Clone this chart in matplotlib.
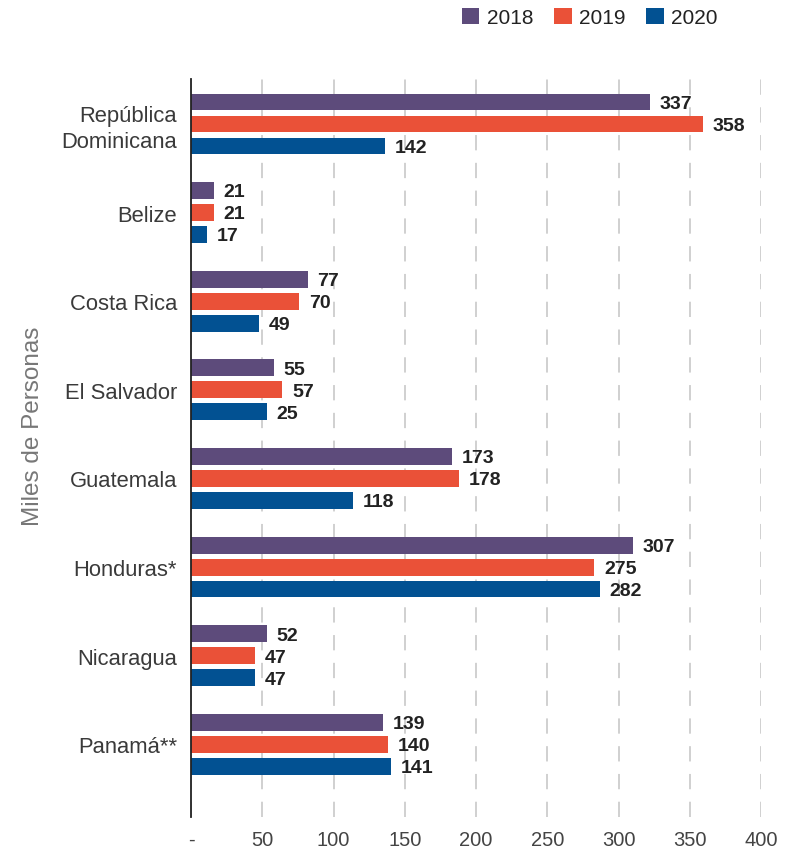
import matplotlib
matplotlib.use("Agg")
import matplotlib.pyplot as plt
import numpy as np

# data
countries = ["República\nDominicana", "Belize", "Costa Rica", "El Salvador",
             "Guatemala", "Honduras*", "Nicaragua", "Panamá**"]
years = ["2018", "2019", "2020"]
# bar lengths as drawn
bars_2018 = [322, 16, 82, 58, 183, 310, 53, 135]
bars_2019 = [359, 16, 76, 64, 188, 283, 45, 138]
bars_2020 = [136, 11, 48, 53, 114, 287, 45, 140]
# printed labels
labels_2018 = [337, 21, 77, 55, 173, 307, 52, 139]
labels_2019 = [358, 21, 70, 57, 178, 275, 47, 140]
labels_2020 = [142, 17, 49, 25, 118, 282, 47, 141]
xticks = [0, 50, 100, 150, 200, 250, 300, 350, 400]
xtick_labels = ["-", "50", "100", "150", "200", "250", "300", "350", "400"]

colors = ["#5d4b7b", "#ea5138", "#025192"]

plt.rcParams["font.family"] = ["Liberation Sans", "DejaVu Sans"]
plt.rcParams["lines.scale_dashes"] = False

fig = plt.figure(figsize=(7.92, 8.53), dpi=100)
ax = fig.add_axes([0.2412, 0.041, 0.7197, 0.8655])

y = np.arange(len(countries))
offs = [-0.248, 0, 0.248]
h = 0.19
series = [bars_2018, bars_2019, bars_2020]
texts = [labels_2018, labels_2019, labels_2020]
for i in range(3):
    ax.barh(y + offs[i], series[i], height=h, color=colors[i], label=years[i], zorder=3)
    for yy, v, t in zip(y + offs[i], series[i], texts[i]):
        ax.annotate(str(t), (v, yy), xytext=(7, -1), textcoords="offset points",
                    ha="left", va="center", fontsize=14, fontweight="bold",
                    color="#222222", zorder=4)

ax.set_xlim(0, 400)
ax.set_ylim(7.82, -0.51)
ax.set_yticks(y)
ax.set_yticklabels(countries, fontsize=15.8, color="#3a3a3a", linespacing=1.27)
ax.set_xticks(xticks)
ax.set_xticklabels(xtick_labels, fontsize=14.5, color="#444444")
ax.tick_params(axis="both", length=0)
ax.tick_params(axis="y", pad=10)
ax.tick_params(axis="x", pad=9)

ax.grid(axis="x", color="#c8c8c8", linewidth=1.2, linestyle=(0, (11, 9)), zorder=0)
ax.grid(axis="y", visible=False)
for s in ["top", "right", "bottom"]:
    ax.spines[s].set_visible(False)
ax.spines["left"].set_color("#222222")
ax.spines["left"].set_linewidth(1.3)
ax.spines["left"].set_zorder(5)

fig.text(0.042, 0.5, "Miles de Personas", rotation=90, ha="center", va="center",
         fontsize=17.5, color="#777777")

leg = fig.legend(loc="upper right", bbox_to_anchor=(0.93, 1.012), ncol=3, frameon=False,
                 fontsize=15, handlelength=0.85, handleheight=0.85,
                 handletextpad=0.35, columnspacing=1.0)
for t in leg.get_texts():
    t.set_color("#222222")

fig.savefig("out.png", dpi=100)
